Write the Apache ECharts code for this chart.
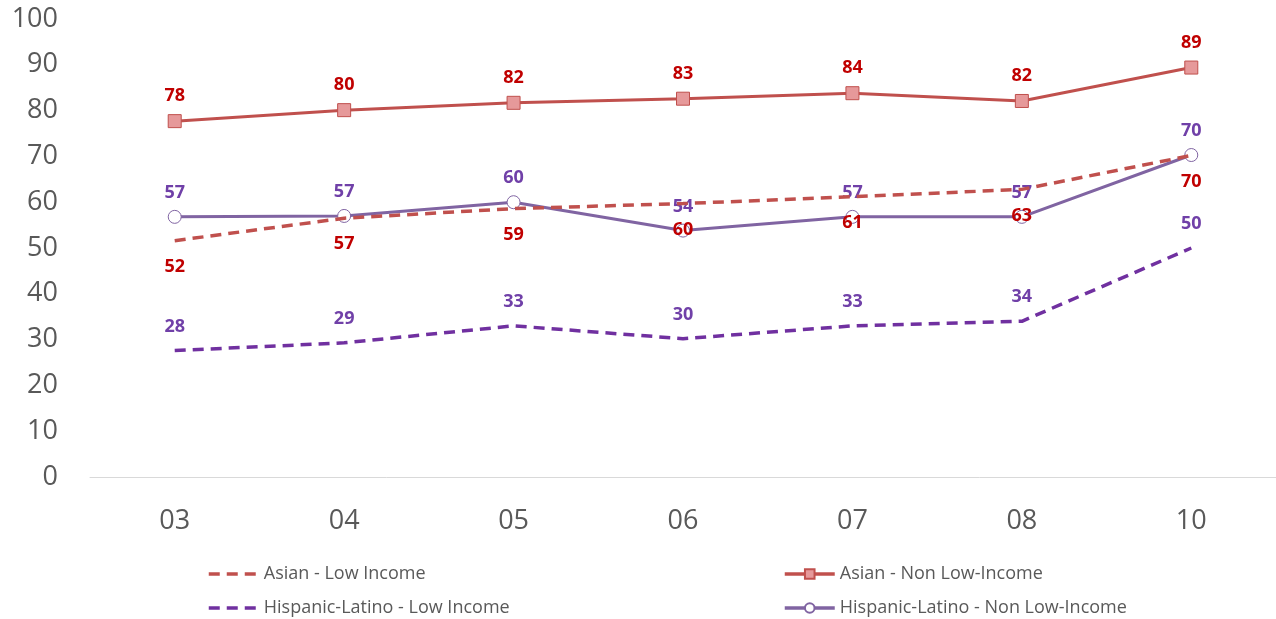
<!DOCTYPE html>
<html>
<head>
<meta charset="utf-8">
<script src="https://cdn.jsdelivr.net/npm/echarts@6/dist/echarts.min.js"></script>
<style>
  html, body { margin: 0; padding: 0; background: #fff; }
  #chart { width: 1276px; height: 619px; }
</style>
</head>
<body>
<div id="chart"></div>
<script>
// == Data ====================================================================
const years = ['03', '04', '05', '06', '07', '08', '10']
const asianLow = [51.6, 56.5, 58.6, 59.7, 61.2, 62.8, 70.2]
const asianNonLow = [77.7, 80.1, 81.7, 82.6, 83.8, 82.1, 89.4]
const hispLow = [27.6, 29.3, 33.0, 30.2, 33.0, 34.0, 50.0]
const hispNonLow = [56.8, 57.0, 60.0, 53.8, 56.8, 56.8, 70.3]

const names = [
  'Asian - Low Income',
  'Asian - Non Low-Income',
  'Hispanic-Latino - Low Income',
  'Hispanic-Latino - Non Low-Income'
]

// == Styles ==================================================================
const RED = '#c0504d'
const RED_LABEL = '#c00000'
const PURPLE_DARK = '#7030a0'
const PURPLE = '#8064a2'
const FONT = '"Open Sans", "Noto Sans", sans-serif'

const label = (color, position, distance) => ({
  show: true,
  position,
  distance,
  color,
  fontFamily: FONT,
  fontWeight: 'bold',
  fontSize: 18,
  formatter: p => Math.round(p.value)
})

const legend = (name, left, top) => ({
  data: [name],
  left,
  top,
  itemWidth: 50,
  itemHeight: 12,
  itemGap: 0,
  lineStyle: { width: 3.5 },
  textStyle: { color: '#595959', fontFamily: FONT, fontSize: 18 }
})

// dashed series keep an invisible symbol so their labels are drawn
const hidden = { color: 'transparent', borderWidth: 0 }

const chart = echarts.init(document.getElementById('chart'))
chart.setOption({
  animation: false,
  grid: { left: 90, right: 0, top: 19, bottom: 142 },
  legend: [
    legend(names[0], 202, 560),
    legend(names[1], 778, 560),
    legend(names[2], 202, 594),
    legend(names[3], 778, 594)
  ],
  xAxis: {
    type: 'category',
    data: years,
    boundaryGap: true,
    axisLine: { lineStyle: { color: '#d9d9d9', width: 1 } },
    axisTick: { show: false },
    axisLabel: { color: '#595959', fontFamily: FONT, fontSize: 27, margin: 31 }
  },
  yAxis: {
    type: 'value',
    min: 0,
    max: 100,
    interval: 10,
    axisLine: { show: false },
    axisTick: { show: false },
    splitLine: { show: false },
    axisLabel: { color: '#595959', fontFamily: FONT, fontSize: 27, margin: 32 }
  },
  series: [
    {
      name: names[0],
      type: 'line',
      data: asianLow,
      symbol: 'circle',
      symbolSize: 2,
      lineStyle: { color: RED, width: 3.5, type: [11, 7] },
      itemStyle: hidden,
      label: label(RED_LABEL, 'bottom', 16),
      z: 4
    },
    {
      name: names[1],
      type: 'line',
      data: asianNonLow,
      symbol: 'rect',
      symbolSize: 13,
      lineStyle: { color: RED, width: 3 },
      itemStyle: { color: '#e6999a', borderColor: RED, borderWidth: 1 },
      label: label(RED_LABEL, 'top', 9),
      z: 3
    },
    {
      name: names[2],
      type: 'line',
      data: hispLow,
      symbol: 'circle',
      symbolSize: 2,
      lineStyle: { color: PURPLE_DARK, width: 3.5, type: [11, 7] },
      itemStyle: hidden,
      label: label('#7040a8', 'top', 14),
      z: 2
    },
    {
      name: names[3],
      type: 'line',
      data: hispNonLow,
      symbol: 'circle',
      symbolSize: 13,
      lineStyle: { color: PURPLE, width: 3 },
      itemStyle: { color: '#ffffff', borderColor: PURPLE, borderWidth: 1 },
      label: label('#7040a8', 'top', 8),
      z: 3
    }
  ]
})
</script>
</body>
</html>
